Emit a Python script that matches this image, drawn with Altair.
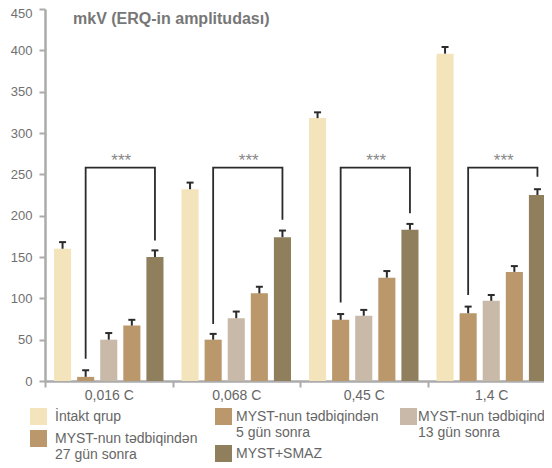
import altair as alt
import pandas as pd

# ---- data ----
groups = ["0,016 C", "0,068 C", "0,45 C", "1,4 C"]
series = [
    "İntakt qrup",
    "MYST-nun tədbiqindən\n5 gün sonra",
    "MYST-nun tədbiqindən\n13 gün sonra",
    "MYST-nun tədbiqindən\n27 gün sonra",
    "MYST+SMAZ",
]
colors = ["#F4E4BB", "#BB976C", "#C8B9A8", "#BB976C", "#8F7F5C"]

intakt = [160, 232, 318, 396]
gun5 = [5, 50, 74, 82]
gun13 = [50, 76, 79, 97]
gun27 = [67, 106, 125, 132]
smaz = [150, 174, 183, 225]

err_intakt = [8, 8, 7, 8]
err_gun5 = [8, 7, 7, 8]
err_gun13 = [8, 8, 7, 7]
err_gun27 = [7, 8, 8, 7]
err_smaz = [8, 8, 7, 7]

bracket_top = [258, 258, 258, 258]
bracket_left_bottom = [27, 69, 95, 104]
bracket_right_bottom = [170, 195, 203, 247]
stars = ["***", "***", "***", "***"]

y_ticks = [0, 50, 100, 150, 200, 250, 300, 350, 400, 450]
title_text = "mkV (ERQ-in amplitudası)"

# legend layout: which series sit in each legend column (x position, label offset)
legend_columns = [
    ([0, 3], -15, 8),
    ([1, 4], 170, 4),
    ([2], 355, 1),
]

# ---- tables ----
values = [intakt, gun5, gun13, gun27, smaz]
errors = [err_intakt, err_gun5, err_gun13, err_gun27, err_smaz]
rows = []
for s, vals, errs in zip(series, values, errors):
    for g, v, e in zip(groups, vals, errs):
        rows.append({"group": g, "series": s, "value": v, "top": v + e})
bars_df = pd.DataFrame(rows)

brows = []
for g, t, lb, rb in zip(groups, bracket_top, bracket_left_bottom, bracket_right_bottom):
    brows.append({"group": g, "series": series[1], "y": lb, "ord": 0})
    brows.append({"group": g, "series": series[1], "y": t, "ord": 1})
    brows.append({"group": g, "series": series[4], "y": t, "ord": 2})
    brows.append({"group": g, "series": series[4], "y": rb, "ord": 3})
bracket_df = pd.DataFrame(brows)

stars_df = pd.DataFrame({"group": groups, "top": bracket_top, "txt": stars})

FONT = "Liberation Sans"
AXIS_GRAY = "#ABABAB"
DARK = "#2B2B2B"

x_enc = alt.X(
    "group:N",
    sort=groups,
    scale=alt.Scale(domain=groups, paddingInner=0, paddingOuter=0),
    axis=alt.Axis(
        title=None, labelAngle=0, tickBand="extent", tickSize=6, tickWidth=2,
        tickColor=AXIS_GRAY, domainColor=AXIS_GRAY, domainWidth=2.5,
        labelFontSize=14, labelColor="#666666", labelFont=FONT, labelPadding=1,
    ),
)
xoff_enc = alt.XOffset(
    "series:N", sort=series,
    scale=alt.Scale(domain=series, paddingInner=0.26, paddingOuter=0.39),
)
y_scale = alt.Scale(domain=[0, 450], nice=False, zero=True)
y_axis = alt.Axis(
    title=None, values=y_ticks, grid=False, tickSize=6, tickWidth=2,
    tickColor=AXIS_GRAY, domainColor=AXIS_GRAY, domainWidth=2.5,
    labelFontSize=13, labelColor="#707070", labelFont=FONT, labelPadding=7,
    labelOffset={"condition": {"test": "datum.value == 450", "value": 4}, "value": 0},
)

bar_layers = []
for idxs, lx, loff in legend_columns:
    sub = [series[i] for i in idxs]
    subcol = [colors[i] for i in idxs]
    leg = alt.Legend(
        orient="none", legendX=lx, legendY=399, direction="vertical",
        symbolType="square", symbolSize=289, symbolStrokeWidth=0, symbolOpacity=1,
        labelFontSize=14, labelColor="#666666", labelFont=FONT, labelOffset=loff,
        labelLimit=400, rowPadding=5, title=None, padding=0,
        labelExpr="split(datum.label, '\\n')",
    )
    bar_layers.append(
        alt.Chart(bars_df)
        .transform_filter(alt.FieldOneOfPredicate(field="series", oneOf=sub))
        .mark_bar()
        .encode(
            x=x_enc,
            xOffset=xoff_enc,
            y=alt.Y("value:Q", scale=y_scale, axis=y_axis),
            color=alt.Color("series:N", sort=sub,
                            scale=alt.Scale(domain=sub, range=subcol), legend=leg),
        )
    )

stems = alt.Chart(bars_df).mark_rule(color=DARK, strokeWidth=2).encode(
    x=x_enc, xOffset=xoff_enc, y=alt.Y("value:Q", scale=y_scale, axis=y_axis), y2="top:Q",
)

caps = alt.Chart(bars_df).mark_tick(color=DARK, thickness=2, size=7, opacity=1).encode(
    x=x_enc, xOffset=xoff_enc, y=alt.Y("top:Q", scale=y_scale, axis=y_axis),
)

brackets = alt.Chart(bracket_df).mark_line(color=DARK, strokeWidth=1.8).encode(
    x=x_enc, xOffset=xoff_enc, y=alt.Y("y:Q", scale=y_scale, axis=y_axis),
    order="ord:Q", detail="group:N",
)

star_text = alt.Chart(stars_df).mark_text(
    fontSize=17, color="#888888", dx=12.5, dy=-2, baseline="alphabetic", font=FONT,
).encode(x=x_enc, y=alt.Y("top:Q", scale=y_scale, axis=y_axis), text="txt:N")

chart = (
    alt.layer(*bar_layers, stems, caps, brackets, star_text)
    .resolve_scale(color="independent")
    .properties(
        width=510, height=372,
        autosize=alt.AutoSizeParams(type="none"),
        padding={"left": 37, "top": 1, "right": -11, "bottom": 90},
        title=alt.TitleParams(
            title_text, anchor="start", frame="group", dx=28, dy=33, offset=0,
            baseline="alphabetic", fontSize=16, fontWeight="bold",
            color="#777777", font=FONT,
        ),
    )
    .configure_view(stroke=None)
)

chart.save("out.html", embed_options={"renderer": "svg", "actions": False})
